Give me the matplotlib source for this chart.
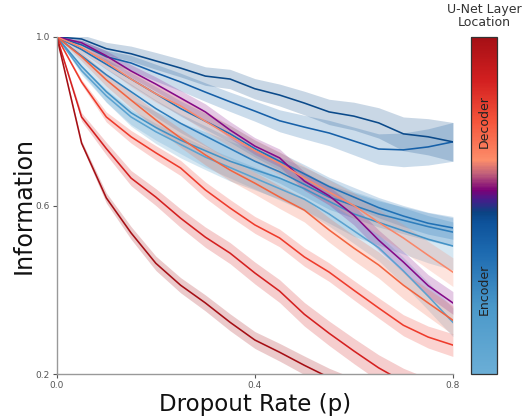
import matplotlib
matplotlib.use("Agg")
import matplotlib.pyplot as plt
import numpy as np
from matplotlib.colors import LinearSegmentedColormap
import matplotlib.colorbar as mcolorbar

# ---------------- data ----------------
dropout_rates = [0.0, 0.05, 0.10, 0.15, 0.20, 0.25, 0.30, 0.35, 0.40,
                 0.45, 0.50, 0.55, 0.60, 0.65, 0.70, 0.75, 0.80]

# encoder layers (shallow -> deep)
enc1 = [1.0, 0.92, 0.86, 0.81, 0.775, 0.745, 0.715, 0.69, 0.665, 0.64, 0.615, 0.58, 0.54, 0.50, 0.445, 0.385, 0.323]
enc2 = [1.0, 0.93, 0.87, 0.82, 0.785, 0.755, 0.73, 0.705, 0.685, 0.665, 0.64, 0.61, 0.58, 0.56, 0.54, 0.52, 0.504]
enc3 = [1.0, 0.955, 0.91, 0.87, 0.83, 0.795, 0.765, 0.735, 0.705, 0.68, 0.65, 0.62, 0.60, 0.58, 0.565, 0.55, 0.537]
enc4 = [1.0, 0.97, 0.935, 0.90, 0.865, 0.83, 0.80, 0.77, 0.735, 0.705, 0.675, 0.645, 0.62, 0.595, 0.575, 0.558, 0.547]
enc5 = [1.0, 0.981, 0.953, 0.938, 0.915, 0.893, 0.869, 0.846, 0.824, 0.801, 0.786, 0.772, 0.753, 0.734, 0.732, 0.739, 0.751]
enc6 = [1.0, 0.995, 0.972, 0.960, 0.943, 0.926, 0.907, 0.900, 0.877, 0.862, 0.843, 0.822, 0.812, 0.796, 0.770, 0.763, 0.751]
# bottleneck
bottleneck = [1.0, 0.986, 0.955, 0.919, 0.888, 0.855, 0.822, 0.779, 0.741, 0.713, 0.658, 0.623, 0.577, 0.518, 0.466, 0.41, 0.369]
# decoder layers (deep -> shallow)
dec1 = [1.0, 0.975, 0.94, 0.90, 0.865, 0.836, 0.80, 0.765, 0.73, 0.70, 0.665, 0.632, 0.60, 0.56, 0.523, 0.482, 0.442]
dec2 = [1.0, 0.953, 0.898, 0.850, 0.803, 0.760, 0.720, 0.684, 0.653, 0.620, 0.589, 0.542, 0.499, 0.459, 0.411, 0.369, 0.328]
dec3 = [1.0, 0.893, 0.810, 0.763, 0.725, 0.689, 0.637, 0.594, 0.554, 0.523, 0.478, 0.442, 0.399, 0.357, 0.316, 0.288, 0.269]
dec4 = [1.0, 0.810, 0.735, 0.665, 0.620, 0.570, 0.525, 0.487, 0.440, 0.397, 0.342, 0.297, 0.255, 0.215, 0.182, 0.157, 0.135]
dec5 = [1.0, 0.748, 0.618, 0.535, 0.463, 0.411, 0.369, 0.323, 0.281, 0.252, 0.221, 0.192, 0.167, 0.145, 0.125, 0.108, 0.093]

# half-widths of the shaded bands
band_narrow = [0.0, 0.006, 0.012, 0.015, 0.017, 0.018, 0.019, 0.02, 0.02, 0.021, 0.022, 0.022, 0.023, 0.024, 0.025, 0.026, 0.027]
band_medium = [0.0, 0.01, 0.015, 0.018, 0.02, 0.022, 0.024, 0.025, 0.026, 0.027, 0.028, 0.029, 0.03, 0.031, 0.032, 0.033, 0.034]
band_wide   = [0.0, 0.015, 0.025, 0.032, 0.038, 0.042, 0.045, 0.047, 0.048, 0.05, 0.051, 0.052, 0.053, 0.054, 0.055, 0.056, 0.057]
band_top    = [0.0, 0.01, 0.015, 0.018, 0.02, 0.021, 0.022, 0.023, 0.024, 0.026, 0.028, 0.03, 0.033, 0.036, 0.04, 0.043, 0.046]

series = [
    (enc1, band_medium, "#5aa2d0"),
    (enc2, band_wide, "#4292c6"),
    (enc3, band_medium, "#2f7ebc"),
    (enc4, band_narrow, "#2171b5"),
    (enc5, band_top, "#1660a8"),
    (enc6, band_top, "#0b4a8a"),
    (bottleneck, band_narrow, "#850a88"),
    (dec1, band_medium, "#f9876a"),
    (dec2, band_medium, "#f26440"),
    (dec3, band_narrow, "#ee3b2c"),
    (dec4, band_medium, "#d42020"),
    (dec5, band_narrow, "#a50f15"),
]

x_ticks = [0.0, 0.4, 0.8]
y_ticks = [0.2, 0.6, 1.0]

cmap_positions = [0.0, 0.2, 0.36, 0.45, 0.48, 0.52, 0.545, 0.595, 0.635, 0.75, 0.87, 1.0]
cmap_colors = ["#6baed6", "#4a98c9", "#1d6ab0", "#0d529a", "#0b4282", "#4a1a8a",
               "#7a0177", "#c0607a", "#fc8d6a", "#f5553b", "#d32020", "#a50f15"]

# ---------------- figure ----------------
fig = plt.figure(figsize=(5.26, 4.19), dpi=100)
ax = fig.add_axes([0.108, 0.107, 0.753, 0.805])

x = np.array(dropout_rates)
for mean, band, color in series:
    m = np.array(mean)
    b = np.array(band)
    ax.fill_between(x, m - b, m + b, color=color, alpha=0.22, linewidth=0)
    ax.plot(x, m, color=color, linewidth=1.15)

ax.set_xlim(0.0, 0.8)
ax.set_ylim(0.2, 1.0)
ax.set_xticks(x_ticks)
ax.set_xticklabels([f"{t:.1f}" for t in x_ticks])
ax.set_yticks(y_ticks)
ax.set_yticklabels([f"{t:.1f}" for t in y_ticks])
for s in ["top", "right"]:
    ax.spines[s].set_visible(False)
for s in ["left", "bottom"]:
    ax.spines[s].set_color("#999999")
    ax.spines[s].set_linewidth(1.0)
ax.tick_params(axis="both", labelsize=6.5, colors="#555555", length=3, width=0.8, pad=2)
ax.set_xlabel("Dropout Rate (p)", fontsize=16.5, color="#111111", labelpad=2)
ax.set_ylabel("Information", fontsize=17, color="#111111", labelpad=0)

# colorbar
cmap = LinearSegmentedColormap.from_list("unet", list(zip(cmap_positions, cmap_colors)))
cax = fig.add_axes([0.895, 0.107, 0.050, 0.805])
cb = mcolorbar.ColorbarBase(cax, cmap=cmap, orientation="vertical")
cb.set_ticks([])
cb.outline.set_edgecolor("#333333")
cb.outline.set_linewidth(0.9)
cax.text(0.5, 0.75, "Decoder", rotation=90, ha="center", va="center",
         fontsize=9, color="#222222", transform=cax.transAxes)
cax.text(0.5, 0.25, "Encoder", rotation=90, ha="center", va="center",
         fontsize=9, color="#222222", transform=cax.transAxes)
cax.text(0.5, 1.022, "U-Net Layer\nLocation", ha="center", va="bottom",
         fontsize=9, color="#333333", transform=cax.transAxes, linespacing=1.0)

fig.savefig("out.png", dpi=100)
